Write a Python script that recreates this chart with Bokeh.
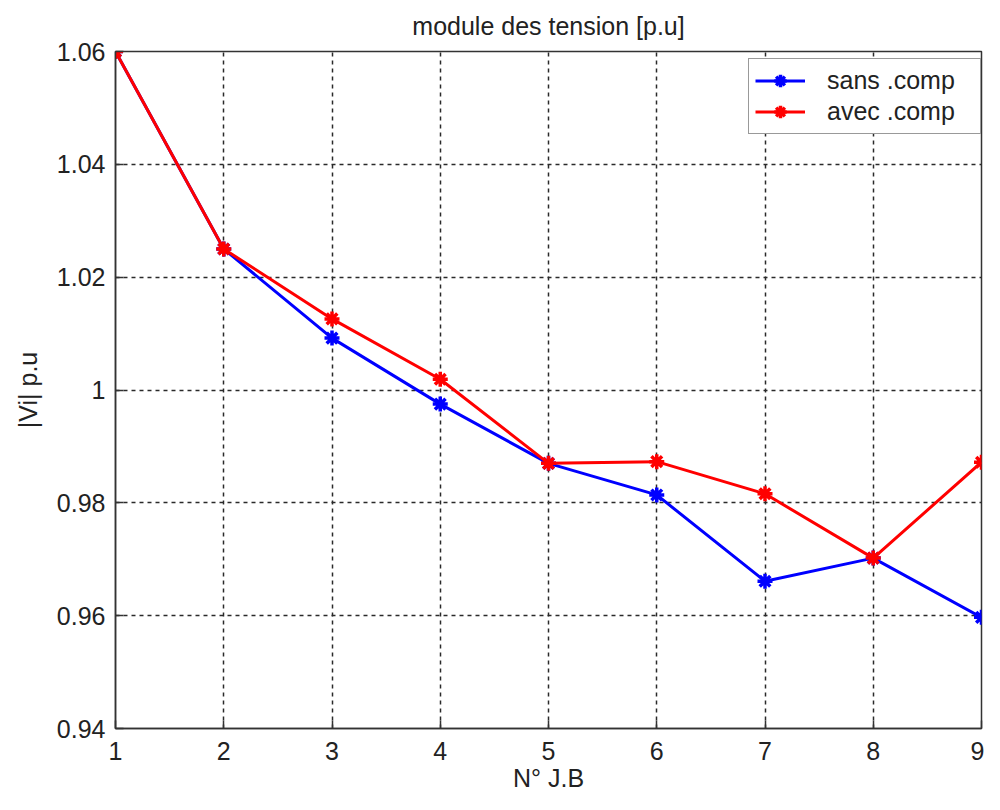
from bokeh.plotting import figure
from bokeh.models import FixedTicker, Legend, LegendItem, Range1d
from bokeh.embed import file_html
from bokeh.resources import INLINE

# ---- data ----
bus = [1, 2, 3, 4, 5, 6, 7, 8, 9]
sans_comp = [1.06, 1.025, 1.0092, 0.9975, 0.9870, 0.9814, 0.9661, 0.9702, 0.9597]
avec_comp = [1.06, 1.025, 1.0126, 1.0019, 0.9870, 0.9873, 0.9816, 0.9702, 0.9872]
x_ticks = [1, 2, 3, 4, 5, 6, 7, 8, 9]
y_ticks = [0.94, 0.96, 0.98, 1, 1.02, 1.04, 1.06]
y_tick_labels = ["0.94", "0.96", "0.98", "1", "1.02", "1.04", "1.06"]

FONT = "Liberation Sans"
FS = "25px"
TXT = "#222222"

p = figure(width=984, height=794, output_backend="svg", toolbar_location=None,
           x_range=Range1d(1, 9), y_range=Range1d(0.94, 1.06),
           min_border_left=115, min_border_right=3, min_border_top=51, min_border_bottom=66,
           title="module des tension [p.u]")
p.background_fill_color = "white"
p.border_fill_color = "white"
p.outline_line_color = "#333333"
p.outline_line_width = 1.5

p.title.align = "center"
p.title.vertical_align = "top"
p.title.text_font = FONT
p.title.text_font_size = FS
p.title.text_font_style = "normal"
p.title.text_color = TXT
p.title.standoff = 19

def style_axis(ax):
    ax.axis_line_color = "#333333"
    ax.axis_line_width = 1.5
    ax.major_tick_in = 8
    ax.major_tick_out = 0
    ax.major_tick_line_color = "#333333"
    ax.major_tick_line_width = 1.5
    ax.minor_tick_line_color = None
    ax.major_label_text_font = FONT
    ax.major_label_text_font_size = FS
    ax.major_label_text_color = TXT
    ax.axis_label_text_font = FONT
    ax.axis_label_text_font_size = FS
    ax.axis_label_text_font_style = "normal"
    ax.axis_label_text_color = TXT

p.xaxis.ticker = FixedTicker(ticks=x_ticks)
p.yaxis.ticker = FixedTicker(ticks=y_ticks)
p.yaxis.major_label_overrides = {t: l for t, l in zip(y_ticks, y_tick_labels)}
style_axis(p.xaxis[0])
style_axis(p.yaxis[0])
p.xaxis.axis_label = "N° J.B"
p.yaxis.axis_label = "|Vi| p.u"
p.xaxis.major_label_standoff = 13
p.xaxis.axis_label_standoff = 1
p.yaxis.major_label_standoff = 10
p.yaxis.axis_label_standoff = 12

p.xgrid.ticker = FixedTicker(ticks=x_ticks)
p.ygrid.ticker = FixedTicker(ticks=y_ticks)
for g in (p.xgrid[0], p.ygrid[0]):
    g.grid_line_color = "#2a2a2a"
    g.grid_line_dash = "4 4"
    g.grid_line_width = 1.5

l1 = p.line(bus, sans_comp, line_color="#0000FF", line_width=3)
m1 = p.scatter(bus, sans_comp, marker="asterisk", size=15, line_color="#0000FF", line_width=3.5)
l2 = p.line(bus, avec_comp, line_color="#FF0000", line_width=3)
m2 = p.scatter(bus, avec_comp, marker="asterisk", size=15, line_color="#FF0000", line_width=3.5)

legend = Legend(items=[LegendItem(label="sans .comp", renderers=[l1, m1]),
                       LegendItem(label="avec .comp", renderers=[l2, m2])],
                location=(633, 594))
legend.label_text_font = FONT
legend.label_text_font_size = FS
legend.label_text_color = TXT
legend.border_line_color = "#333333"
legend.border_line_width = 1.5
legend.background_fill_color = "white"
legend.background_fill_alpha = 1
legend.padding = 6
legend.spacing = 0
legend.margin = 0
legend.label_height = 31
legend.glyph_height = 31
legend.glyph_width = 50
legend.label_standoff = 22
legend.label_width = 147
p.add_layout(legend, "center")

open("out.html", "w").write(file_html(p, INLINE))
